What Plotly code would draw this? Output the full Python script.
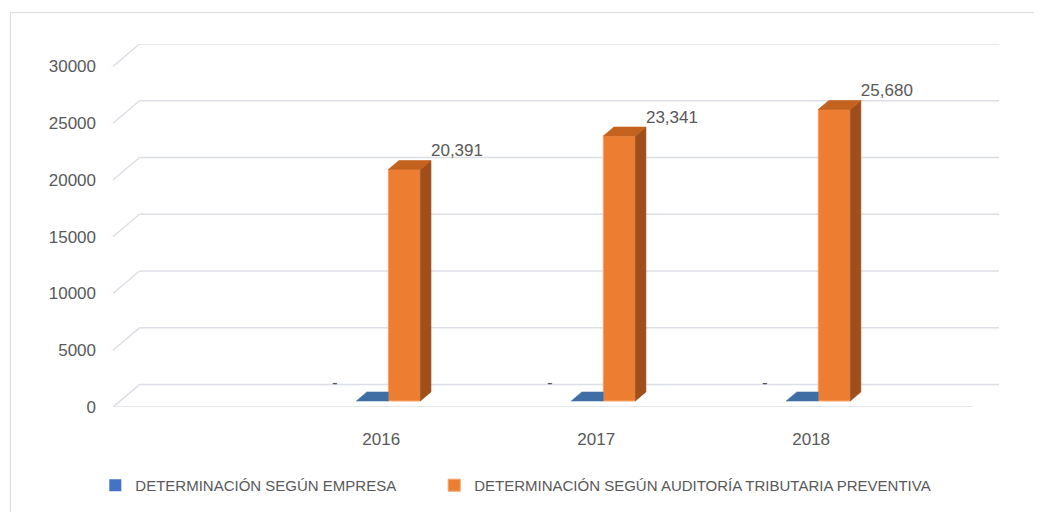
import plotly.graph_objects as go

# ---- data ----
years = ["2016", "2017", "2018"]
empresa = [0, 0, 0]
auditoria = [20391, 23341, 25680]
y_ticks = [0, 5000, 10000, 15000, 20000, 25000, 30000]
series_names = ["DETERMINACIÓN SEGÚN EMPRESA",
                "DETERMINACIÓN SEGÚN AUDITORÍA TRIBUTARIA PREVENTIVA"]

# ---- layout / 3D emulation constants ----
VW, VH = 1042, 512          # viewport
OFF = 8                     # page body margin
W, H = VW - OFF, VH - OFF   # figure size
PL, PR, PT, PB = 112.7, 999.0, 44.3, 406.7      # plot area in viewport px
XL, XR = -1.248, 2.874                          # x range (category units)
DX = 0.1233                                     # wall depth in x units
DY = 1976                                       # wall depth in y units
YR = [0, y_ticks[-1] + DY]
F0 = 0.268                                      # bar front depth fraction
FB = 0.40                                       # bar depth fraction
BW = 0.149                                      # bar width

GRID = "#dcdfe6"
TXT = "#595959"
FONT = "Liberation Sans, Arial, sans-serif"
OR_FRONT, OR_SIDE, OR_TOP, OR_EDGE = "#ED7D31", "#9E4F1C", "#C4621F", "#F5A56A"
BL_FRONT, BL_TOP = "#4472C4", "#3E6EA3"

def px2paper_x(p):
    return (p - PL) / (PR - PL)

def px2paper_y(p):
    return (PB - p) / (PB - PT)

xs = list(range(len(years)))
fig = go.Figure()

# front faces (bars)
fig.add_trace(go.Bar(
    x=xs, y=empresa, base=F0 * DY, offset=F0 * DX - BW, width=BW,
    name=series_names[0], marker=dict(color=BL_FRONT, line=dict(width=0)),
    hoverinfo="skip", legend="legend"))
fig.add_trace(go.Bar(
    x=xs, y=auditoria, base=F0 * DY, offset=F0 * DX, width=BW,
    name=series_names[1], marker=dict(color=OR_FRONT, line=dict(color=OR_EDGE, width=1)),
    hoverinfo="skip", legend="legend2"))

bdx, bdy = FB * DX, FB * DY

# orange side and top faces
side_x, side_y, top_x, top_y = [], [], [], []
lab_x, lab_y, lab_t = [], [], []
for i, v in zip(xs, auditoria):
    x0 = i + F0 * DX
    x1 = x0 + BW
    yb = F0 * DY
    yt = yb + v
    side_x += [x1, x1 + bdx, x1 + bdx, x1, x1, None]
    side_y += [yb, yb + bdy, yt + bdy, yt, yb, None]
    top_x += [x0, x1, x1 + bdx, x0 + bdx, x0, None]
    top_y += [yt, yt, yt + bdy, yt + bdy, yt, None]
    lab_x.append(x1 + bdx)
    lab_y.append(yt + bdy)
    lab_t.append(f"{v:,}")

fig.add_trace(go.Scatter(x=side_x, y=side_y, mode="lines", fill="toself",
                         fillcolor=OR_SIDE, line=dict(width=0.6, color=OR_SIDE),
                         showlegend=False, hoverinfo="skip"))
fig.add_trace(go.Scatter(x=top_x, y=top_y, mode="lines", fill="toself",
                         fillcolor=OR_TOP, line=dict(width=0.6, color=OR_TOP),
                         showlegend=False, hoverinfo="skip"))

# blue top faces (zero height) - visible part only
bt_x, bt_y, bl_x, bl_y, bl_t = [], [], [], [], []
for i, v in zip(xs, empresa):
    x1 = i + F0 * DX
    x0 = x1 - BW
    yt = F0 * DY + v
    bt_x += [x0, x1, x1, x0 + bdx, x0, None]
    bt_y += [yt, yt, yt + bdy, yt + bdy, yt, None]
    bl_x.append(x0 - 0.10)
    bl_y.append(yt + bdy)
    bl_t.append("-" if v == 0 else f"{v:,}")

fig.add_trace(go.Scatter(x=bt_x, y=bt_y, mode="lines", fill="toself",
                         fillcolor=BL_TOP, line=dict(width=0.6, color=BL_TOP),
                         showlegend=False, hoverinfo="skip"))

# data labels
fig.add_trace(go.Scatter(x=lab_x, y=lab_y, mode="text", text=lab_t,
                         textposition="top right",
                         textfont=dict(size=17, color=TXT, family=FONT),
                         showlegend=False, hoverinfo="skip"))
fig.add_trace(go.Scatter(x=bl_x, y=bl_y, mode="text", text=bl_t,
                         textposition="top center",
                         textfont=dict(size=17, color=TXT, family=FONT),
                         showlegend=False, hoverinfo="skip"))

# back wall gridlines, floor, diagonals
shapes = []
for v in y_ticks:
    shapes.append(dict(type="line", xref="x", yref="y", layer="below",
                       x0=XL + DX, x1=XR, y0=v + DY, y1=v + DY,
                       line=dict(color=GRID, width=1.5)))
    shapes.append(dict(type="line", xref="x", yref="y", layer="below",
                       x0=XL, x1=XL + DX, y0=v, y1=v + DY,
                       line=dict(color=GRID, width=1.5)))
shapes.append(dict(type="line", xref="x", yref="y", layer="below",
                   x0=XL, x1=XR - DX, y0=0, y1=0,
                   line=dict(color=GRID, width=1.5)))
# chart border
shapes.append(dict(type="rect", xref="paper", yref="paper", layer="below",
                   x0=px2paper_x(10), x1=px2paper_x(1080),
                   y0=px2paper_y(560), y1=px2paper_y(13),
                   line=dict(color="#d9d9d9", width=1)))

legend_common = dict(orientation="h", xanchor="left", yanchor="middle",
                     y=px2paper_y(485), font=dict(size=15, color=TXT),
                     itemwidth=30, bgcolor="rgba(0,0,0,0)")

fig.update_layout(
    width=W, height=H,
    margin=dict(l=PL - OFF, r=VW - PR, t=PT - OFF, b=VH - PB, pad=0, autoexpand=False),
    paper_bgcolor="white", plot_bgcolor="rgba(0,0,0,0)",
    barmode="overlay",
    shapes=shapes,
    font=dict(family=FONT, color=TXT, size=16),
    xaxis=dict(range=[XL, XR], showgrid=False, zeroline=False, showline=False,
               tickvals=xs, ticktext=years, ticks="", ticklabelstandoff=20,
               tickfont=dict(size=17, color=TXT), fixedrange=True),
    yaxis=dict(range=YR, showgrid=False, zeroline=False, showline=False,
               tickvals=y_ticks, ticktext=[str(t) for t in y_ticks], ticks="",
               ticklabelstandoff=16, tickfont=dict(size=17, color=TXT), fixedrange=True),
    legend=dict(x=px2paper_x(95), **legend_common),
    legend2=dict(x=px2paper_x(434), **legend_common),
    showlegend=True,
)

fig.write_html("out.html")
